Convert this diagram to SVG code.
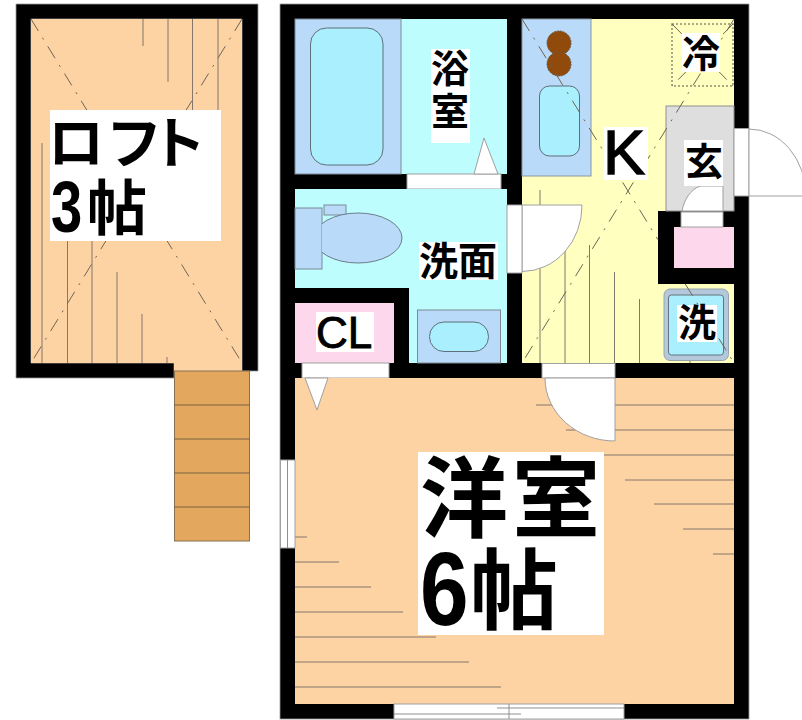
<svg xmlns="http://www.w3.org/2000/svg" width="802" height="720" viewBox="0 0 802 720">
<style>
.wall{fill:#000;stroke:#999;stroke-width:.8}
.ln{stroke:#85776a;stroke-width:1;fill:none}
.dash{stroke:#6f6556;stroke-width:1;fill:none;stroke-dasharray:14 8 2 8}
.edge{stroke:#8f8f8f;stroke-width:1}
.open{fill:#fff;stroke:#a0a0a0;stroke-width:1}
.lab{fill:#fff}
.jp{font-family:"Noto Sans CJK JP","Noto Sans",sans-serif;font-weight:700;fill:#000}
.lat{font-family:"Liberation Sans",Arial,sans-serif;fill:#000}
</style>
<defs><clipPath id="bowl-clip"><rect x="322" y="205" width="90" height="70"/></clipPath></defs>
<rect width="802" height="720" fill="#fff"/>
<g id="loft">
<path class="wall" d="M16 4H258V371H242V19H31V363H174V378H16Z"/>
<path d="M31 19H242V371H174V363H31Z" fill="#fdd3a4"/>
<path class="ln" d="M143 19V46M168 19V82M192.500 19V110M218 19V110M42 143V363M67.500 241V363M92 241V363M117 272V363M142 314V363M167 357V363"/>
<path class="dash" d="M31 19L242 363M242 19L31 363"/>
</g>
<g id="stairs">
<rect x="174.500" y="371" width="75" height="170" fill="#e3a85d" stroke="#85704f"/>
<path d="M174.500 405H249.500M174.500 439H249.500M174.500 473H249.500M174.500 507H249.500" stroke="#7a6243" stroke-width="1.200"/>
</g>
<rect id="main-walls" class="wall" x="280" y="4" width="469" height="715"/>
<g id="bath">
<rect x="295" y="19" width="212" height="155" fill="#bdfdfd"/>
<rect x="295" y="19" width="106" height="155" fill="#b9daf9" stroke="#7c8a96"/>
<rect x="310.500" y="28" width="72.500" height="137" rx="16" fill="#a9effd" stroke="#5d6f78"/>
<rect x="407" y="174" width="94" height="15" class="open"/>
<path d="M474 174L484 138L498 174Z" class="open"/>
</g>
<g id="wash">
<path d="M295 189H507V363H409V288H295Z" fill="#bdfdfd"/>
<rect x="295" y="208" width="27" height="61" fill="#b9daf9" stroke="#7c8a96"/>
<rect x="324" y="205" width="22" height="10" fill="#b9daf9" stroke="#7c8a96"/>
<ellipse cx="358" cy="238" rx="44" ry="25" fill="#b9daf9" stroke="#6c7c8a" clip-path="url(#bowl-clip)"/>
<rect x="417.500" y="310" width="83" height="53" fill="#b9daf9" stroke="#7c8a96"/>
<rect x="429.500" y="322" width="59" height="29.500" rx="14.500" fill="#a9effd" stroke="#5d6f78"/>
</g>
<g id="closet">
<rect x="295" y="303" width="99" height="60" fill="#fdd7ec"/>
<rect x="302" y="363" width="87" height="15" class="open"/>
</g>
<g id="kitchen">
<path d="M522 19H734V211H658V284H734V363H522Z" fill="#ffffc0"/>
<path class="ln" d="M540 190V363M565 250V363M589.500 245V363M614.500 272V363M639.500 299V363M690 357V363"/>
<rect x="522" y="19" width="69" height="157" fill="#b9daf9" stroke="#8a96a0"/>
<circle cx="559" cy="43" r="12" fill="#8f4a0c" stroke="#6b5a44" stroke-dasharray="2 1"/>
<circle cx="559" cy="64" r="12" fill="#8f4a0c" stroke="#6b5a44" stroke-dasharray="2 1"/>
<rect x="539.500" y="86" width="40" height="70" rx="10" fill="#a9effd" stroke="#5d6f78"/>
<rect x="672" y="24" width="61" height="62" fill="none" stroke="#8f8d6e" stroke-width="1.500" stroke-dasharray="2 2"/>
<path class="dash" d="M672 24L733 86M733 24L672 86"/>
<rect x="666" y="106" width="68" height="105" fill="#dedede" stroke="#8f8f8f"/>
<rect x="664" y="289" width="64.500" height="71.500" rx="6" fill="#b4c8dc" stroke="#98a4ae"/>
<rect x="668.500" y="295" width="55" height="60" rx="3" fill="#a9effd" stroke="#64747e"/>
<path class="dash" d="M522 19L658 239.700M685.300 284L734 363M734 19L522 363"/>
<rect x="674" y="227" width="60" height="41" fill="#fdd7ec"/>
<rect x="681" y="212" width="42" height="15" class="open"/>
<path d="M723 211V186H700C690 190 684 200 682 211Z" class="open"/>
</g>
<g id="western">
<rect x="295" y="378" width="439" height="326" fill="#fdd3a4"/>
<path class="ln" d="M295 537H307M295 562H339M295 587H371M295 612H403M295 637H436M295 662H469M295 687H501M536 405H734M566 430H734M604 455H734M625 480H734M654 504H734M683 529H734M713 554H734"/>
<rect x="542" y="363.500" width="73" height="14.500" class="open"/>
</g>
<g id="doors">
<path class="open" d="M522 205H582A60 66 0 0 1 522 271.500Z"/>
<rect x="507" y="205" width="15" height="68" class="open"/>
<path class="open" d="M615 378V441A70 63 0 0 1 545 378Z"/>
<path d="M305 378H328L317 410Z" class="open"/>
<rect x="734" y="128.500" width="15" height="67.500" class="open"/>
<path class="open" d="M749 196V129A57 67 0 0 1 806 196Z"/>
</g>
<g id="windows">
<rect x="280.500" y="460" width="14.500" height="88" class="open"/>
<path class="edge" d="M287.500 460V548" stroke-width="2"/>
<rect x="394" y="704" width="230" height="15" class="open"/>
<path class="edge" d="M497 708H624M394 714H521M509 704V719"/>
</g>
<g id="label-loft">
<rect class="lab" x="50" y="110" width="171" height="131"/>
<text class="jp" x="48 106 150" y="163" font-size="56">ロフト</text>
<text class="lat" font-size="72" font-weight="700" transform="translate(51 232) scale(.78 1)">3</text>
<text class="jp" x="87" y="230" font-size="60">帖</text>
</g>
<g id="label-bath"><rect class="lab" x="431" y="49" width="39" height="94"/><text class="jp" x="431" y="82" font-size="38">浴</text><text class="jp" x="431" y="125" font-size="38">室</text></g>
<g id="label-wash"><rect class="lab" x="419" y="242" width="79" height="38"/><text class="jp" x="419" y="275" font-size="39">洗面</text></g>
<g id="label-cl"><rect class="lab" x="316" y="312" width="58" height="40"/><text class="lat" x="316" y="348" font-size="44" stroke="#000" stroke-width=".9">CL</text></g>
<g id="label-k"><rect class="lab" x="604" y="127" width="44" height="53"/><text class="lat" x="603" y="174" font-size="63" stroke="#000" stroke-width="1.400">K</text></g>
<g id="label-fridge"><rect class="lab" x="682" y="33" width="38" height="39"/><text class="jp" x="682" y="67" font-size="38">冷</text></g>
<g id="label-entry"><rect class="lab" x="684" y="140" width="39" height="46"/><text class="jp" x="685" y="175" font-size="38">玄</text></g>
<g id="label-washer"><rect class="lab" x="677" y="305" width="40" height="37"/><text class="jp" x="678" y="336" font-size="38">洗</text></g>
<g id="label-western">
<rect class="lab" x="418" y="452" width="186" height="183"/>
<text class="jp" x="420" y="530" font-size="88" letter-spacing="4">洋室</text>
<text class="lat" font-size="104" font-weight="700" transform="translate(420 625) scale(.84 1)">6</text>
<text class="jp" x="470" y="622" font-size="88">帖</text>
</g>
</svg>
